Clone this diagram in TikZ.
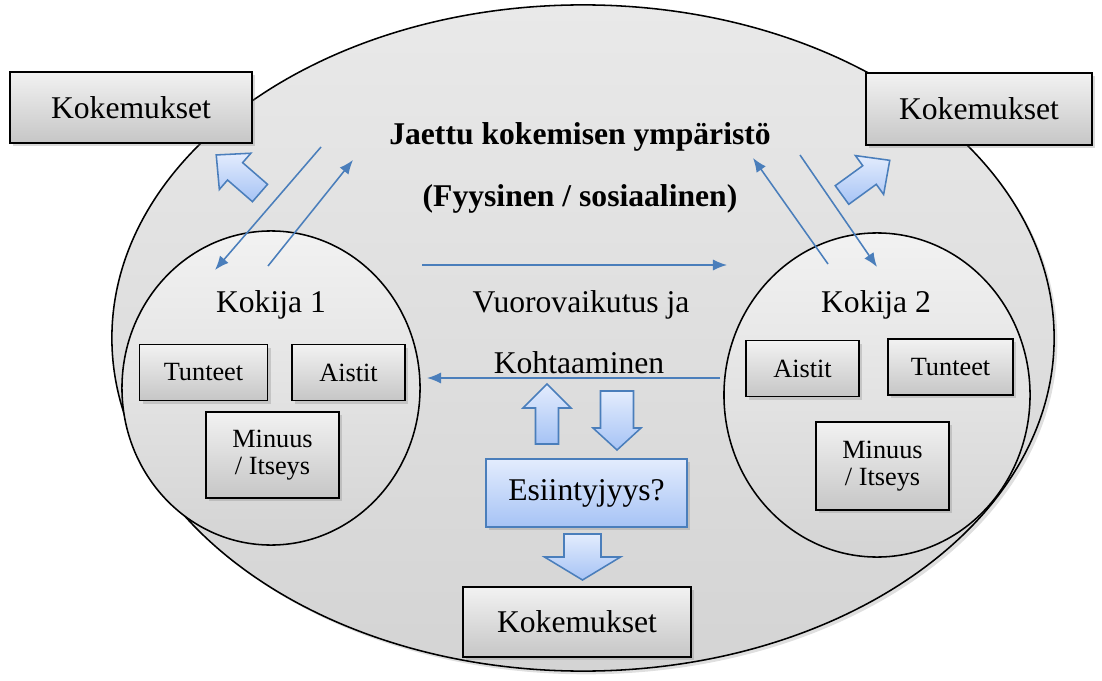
\documentclass[tikz,border=0pt]{standalone}
\usepackage{fontspec}
\setmainfont{Liberation Serif}
\usetikzlibrary{shadows,arrows.meta,shapes.geometric}
\definecolor{boxtop}{HTML}{F2F2F2}
\definecolor{boxbot}{HTML}{C6C6C6}
\definecolor{envtop}{HTML}{E9E9E9}
\definecolor{envbot}{HTML}{D4D4D4}
\definecolor{lineblue}{HTML}{4A7EBB}
\definecolor{bluetop}{HTML}{E3ECFD}
\definecolor{bluebot}{HTML}{A6C3F5}
\newcommand{\isoteksti}{\fontsize{22.5}{26}\selectfont}
\newcommand{\pieniteksti}{\fontsize{18.7}{19.5}\selectfont}
\tikzstyle{ymparisto}=[ellipse, draw, line width=1.1pt, top color=envtop,
  bottom color=envbot, minimum width=23.55cm, minimum height=16.65cm,
  drop shadow={opacity=0.25}]
\tikzstyle{kokija}=[ellipse, draw, line width=1.1pt, top color=envtop!60!white,
  bottom color=envbot]
\tikzstyle{kokemus}=[draw, line width=1.3pt, top color=boxtop, bottom color=boxbot,
  text centered, font=\isoteksti, drop shadow={opacity=0.3}]
\tikzstyle{ominaisuus}=[kokemus, font=\pieniteksti, align=center]
\tikzstyle{kysymys}=[kokemus, draw=lineblue, line width=1pt, top color=bluetop,
  bottom color=bluebot]
\tikzstyle{teksti}=[font=\isoteksti]
\tikzstyle{otsikko}=[font=\isoteksti\bfseries]
\tikzstyle{line}=[draw, color=lineblue, line width=1.1pt, -{Latex[length=10pt,width=8pt]}]
\tikzstyle{fatarrow}=[draw=lineblue, line width=1.1pt, top color=bluetop, bottom color=bluebot]
\newcommand{\laatikko}[5]{node (#1) [#2, minimum width=#4, minimum height=#5] {#3}}
% tail, angle, length, half head width, half shaft width, head length
\newcommand{\paksunuoli}[6]{%
  \path[fatarrow, shift={#1}, rotate=#2] (0,{-#5}) -- ({#3-#6},{-#5})
    -- ({#3-#6},{-#4}) -- (#3,0) -- ({#3-#6},{#4}) -- ({#3-#6},{#5})
    -- (0,{#5}) -- cycle;}

\begin{document}
\begin{tikzpicture}[x=0.025cm, y=-0.025cm]
  \useasboundingbox (0,0) rectangle (1102,681);

  % shared environment
  \path (583,338) node (ymparisto) [ymparisto] {};
  \path (ymparisto.north)+(-3,133) node (otsikko) [otsikko] {Jaettu kokemisen ympäristö};
  \path (otsikko)+(0,62) node (alaotsikko) [otsikko] {(Fyysinen / sosiaalinen)};

  % the two experiencers
  \path (271,388) node (kokija1) [kokija, minimum width=7.45cm, minimum height=7.85cm] {};
  \path (877,395) node (kokija2) [kokija, minimum width=7.65cm, minimum height=8.1cm] {};
  \path (kokija1.north)+(0,75) node (nimi1) [teksti] {Kokija 1};
  \path (kokija2.north)+(-1,73) node (nimi2) [teksti] {Kokija 2};

  \path (203.5,372.5) \laatikko{tunteet1}{ominaisuus}{Tunteet}{3.2cm}{1.4cm};
  \path (tunteet1)+(145,0) \laatikko{aistit1}{ominaisuus}{Aistit}{2.83cm}{1.4cm};
  \path (272.5,455) \laatikko{minuus1}{ominaisuus}{Minuus\\/ Itseys}{3.33cm}{2.15cm};
  \path (802.5,368.5) \laatikko{aistit2}{ominaisuus}{Aistit}{2.83cm}{1.4cm};
  \path (aistit2)+(148,-1.5) \laatikko{tunteet2}{ominaisuus}{Tunteet}{3.13cm}{1.4cm};
  \path (882.5,466) \laatikko{minuus2}{ominaisuus}{Minuus\\/ Itseys}{3.33cm}{2.2cm};

  % experiences
  \path (131,107.5) \laatikko{kokemus1}{kokemus}{Kokemukset}{6.05cm}{1.78cm};
  \path (979,109) \laatikko{kokemus2}{kokemus}{Kokemukset}{5.65cm}{1.8cm};
  \path (577,622) \laatikko{kokemus3}{kokemus}{Kokemukset}{5.7cm}{1.75cm};

  % interaction in the middle
  \path (581,305) node (vuoro) [teksti] {Vuorovaikutus ja};
  \path (vuoro)+(-2,58) node (kohtaaminen) [teksti] {Kohtaaminen};
  \path (586.5,493) \laatikko{esiintyjyys}{kysymys}{Esiintyjyys?}{5.03cm}{1.7cm};

  % free ends of the thin arrows
  \coordinate (v1) at (321,147);  \coordinate (v1k) at (215,270);
  \coordinate (y1) at (268,266);  \coordinate (y1k) at (353,160);
  \coordinate (y2) at (828,264);  \coordinate (y2k) at (753,158);
  \coordinate (v2) at (800,155);  \coordinate (v2k) at (877,267);
  \coordinate (m1) at (422,265);  \coordinate (m1k) at (727,265);
  \coordinate (m2) at (720,378);  \coordinate (m2k) at (427,378);

  \path [line] (v1) -- (v1k);
  \path [line] (y1) -- (y1k);
  \path [line] (y2) -- (y2k);
  \path [line] (v2) -- (v2k);
  \path [line] (m1) -- (m1k);
  \path [line] (m2) -- (m2k);

  % block arrows
  \paksunuoli{(260,193)}{139}{58}{24}{11.5}{25}
  \paksunuoli{(842,195)}{36}{59}{24}{11.5}{25}
  \paksunuoli{(547,444)}{90}{60}{24}{11.5}{24}
  \paksunuoli{(617,391)}{-90}{59}{24}{16.5}{22}
  \paksunuoli{(582.5,534)}{-90}{46}{38}{18.5}{23}

\end{tikzpicture}
\end{document}
